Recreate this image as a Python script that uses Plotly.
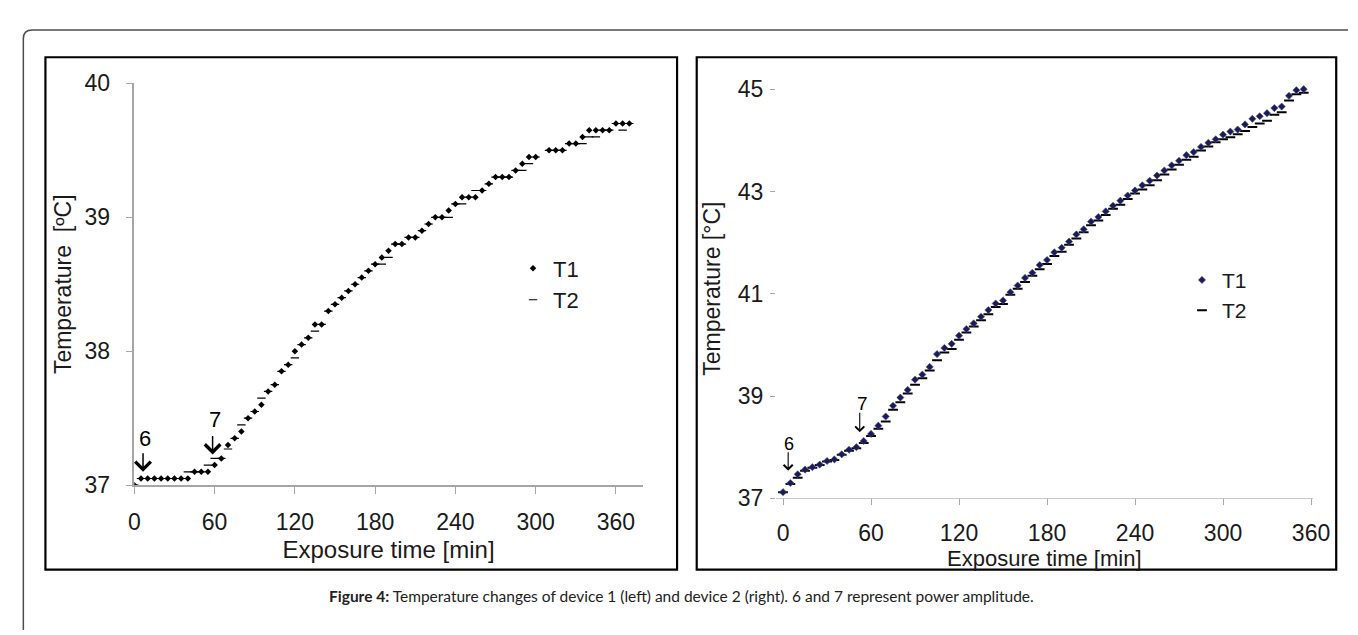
import plotly.graph_objects as go

W, H = 1358, 635

# ---------------- data: device 1 (left) ----------------
time_left = [0, 5, 10, 15, 20, 25, 30, 35, 40, 45, 50, 55, 60, 65, 70, 75, 80, 85, 90, 95,
             100, 105, 110, 115, 120, 125, 130, 135, 140, 145, 150, 155, 160, 165, 170, 175,
             180, 185, 190, 195, 200, 205, 210, 215, 220, 225, 230, 235, 240, 245, 250, 255,
             260, 265, 270, 275, 280, 285, 290, 295, 300, 305, 310, 315, 320, 325, 330, 335,
             340, 345, 350, 355, 360, 365, 370]
t1_left = [37.00, 37.05, 37.05, 37.05, 37.05, 37.05, 37.05, 37.05, 37.05, 37.10, 37.10, 37.10,
           37.15, 37.20, 37.30, 37.35, 37.40, 37.50, 37.55, 37.60, 37.70, 37.75, 37.85, 37.90,
           38.00, 38.05, 38.10, 38.20, 38.20, 38.30, 38.35, 38.40, 38.45, 38.50, 38.55, 38.60,
           38.65, 38.70, 38.75, 38.80, 38.80, 38.85, 38.85, 38.90, 38.95, 39.00, 39.00, 39.05,
           39.10, 39.15, 39.15, 39.15, 39.20, 39.25, 39.30, 39.30, 39.30, 39.35, 39.40, 39.45,
           39.45, None, 39.50, 39.50, 39.50, 39.55, 39.55, 39.60, 39.65, 39.65, 39.65, 39.65,
           39.70, 39.70, 39.70]
t2_left = [37.00, 37.05, 37.05, 37.05, 37.05, 37.05, 37.05, 37.05, 37.10, 37.10, 37.10, 37.15,
           37.20, 37.20, 37.27, 37.35, 37.45, 37.50, 37.55, 37.65, 37.70, 37.75, 37.85, 37.90,
           37.95, 38.05, 38.10, 38.15, 38.20, 38.30, 38.35, 38.40, 38.45, 38.50, 38.55, 38.60,
           38.65, 38.65, 38.70, 38.80, 38.80, 38.85, 38.85, 38.90, 38.95, 39.00, 39.00, 39.00,
           39.10, 39.10, 39.15, 39.20, 39.20, 39.25, 39.30, 39.30, 39.30, 39.35, 39.35, 39.40,
           39.45, None, 39.50, 39.50, 39.50, 39.55, 39.55, 39.55, 39.60, 39.60, 39.65, 39.65,
           39.70, 39.65, 39.70]

# ---------------- data: device 2 (right) ----------------
time_right = [0, 5, 10, 15, 20, 25, 30, 35, 40, 45, 50, 55, 60, 65, 70, 75, 80, 85, 90, 95,
              100, 105, 110, 115, 120, 125, 130, 135, 140, 145, 150, 155, 160, 165, 170, 175,
              180, 185, 190, 195, 200, 205, 210, 215, 220, 225, 230, 235, 240, 245, 250, 255,
              260, 265, 270, 275, 280, 285, 290, 295, 300, 305, 310, 315, 320, 325, 330, 335,
              340, 345, 350, 355]
t1_right = [37.12, 37.30, 37.47, 37.56, 37.61, 37.66, 37.73, 37.76, 37.86, 37.95, 38.00, 38.12,
            38.26, 38.42, 38.60, 38.81, 38.97, 39.12, 39.32, 39.42, 39.57, 39.82, 39.94, 40.02,
            40.18, 40.31, 40.42, 40.55, 40.68, 40.81, 40.87, 41.03, 41.16, 41.31, 41.41, 41.56,
            41.66, 41.81, 41.90, 42.02, 42.16, 42.26, 42.41, 42.50, 42.61, 42.72, 42.82, 42.92,
            43.02, 43.12, 43.21, 43.31, 43.41, 43.51, 43.60, 43.71, 43.77, 43.87, 43.95, 44.02,
            44.11, 44.17, 44.21, 44.31, 44.42, 44.47, 44.53, 44.63, 44.66, 44.87, 44.98, 45.00]
t2_right = [37.12, 37.28, 37.40, 37.54, 37.60, 37.65, 37.72, 37.75, 37.85, 37.93, 37.98, 38.08,
            38.22, 38.36, 38.50, 38.73, 38.88, 39.05, 39.22, 39.35, 39.50, 39.70, 39.85, 39.92,
            40.10, 40.24, 40.36, 40.48, 40.60, 40.74, 40.80, 40.98, 41.10, 41.23, 41.35, 41.48,
            41.58, 41.74, 41.82, 41.96, 42.08, 42.20, 42.34, 42.43, 42.54, 42.66, 42.74, 42.85,
            42.96, 43.04, 43.12, 43.22, 43.33, 43.43, 43.52, 43.62, 43.68, 43.80, 43.88, 43.96,
            44.02, 44.06, 44.12, 44.18, 44.26, 44.33, 44.38, 44.50, 44.55, 44.78, 44.90, 44.93]

left_xticks = [0, 60, 120, 180, 240, 300, 360]
left_yticks = [37, 38, 39, 40]
right_xticks = [0, 60, 120, 180, 240, 300, 360]
right_yticks = [37, 39, 41, 43, 45]


def px(x):
    return x / W


def py(y):
    return 1 - y / H


FONT = "Liberation Sans, Arial, sans-serif"
TXT = "#1a1a1a"
AX_GRAY = "#a6a6a6"

fig = go.Figure()

# left panel traces
fig.add_trace(go.Scatter(x=time_left, y=t2_left, mode="markers", name="T2",
                         marker=dict(symbol="line-ew", size=6, color="black",
                                     line=dict(color="black", width=1.2)),
                         xaxis="x", yaxis="y", legend="legend", legendrank=2))
fig.add_trace(go.Scatter(x=time_left, y=t1_left, mode="markers", name="T1",
                         marker=dict(symbol="diamond", size=5, color="black",
                                     line=dict(width=0)),
                         xaxis="x", yaxis="y", legend="legend", legendrank=1))

# right panel traces
fig.add_trace(go.Scatter(x=time_right, y=t2_right, mode="markers", name="T2",
                         marker=dict(symbol="line-ew", size=7, color="black",
                                     line=dict(color="black", width=2)),
                         xaxis="x2", yaxis="y2", legend="legend2", legendrank=2))
fig.add_trace(go.Scatter(x=time_right, y=t1_right, mode="markers", name="T1",
                         marker=dict(symbol="diamond", size=5.5, color="#1b1b55",
                                     line=dict(width=0.6, color="#4a4a8a")),
                         xaxis="x2", yaxis="y2", legend="legend2", legendrank=1))

common_ax = dict(showgrid=False, zeroline=False, ticks="outside", tickcolor=AX_GRAY,
                 tickwidth=1.2)

fig.update_layout(
    width=W, height=H, autosize=False,
    margin=dict(l=0, r=0, t=0, b=0),
    paper_bgcolor="white", plot_bgcolor="white",
    xaxis=dict(domain=[px(122.5), px(640)], range=[0, 380], anchor="y",
               tickvals=left_xticks, showline=True, linecolor=AX_GRAY, linewidth=1.5,
               ticklen=7, ticklabelstandoff=8,
               tickfont=dict(family=FONT, size=23, color=TXT),
               title=dict(text="Exposure time [min]", standoff=8,
                          font=dict(family=FONT, size=24, color=TXT)),
               **common_ax),
    yaxis=dict(domain=[py(484), py(65)], range=[37, 40], anchor="x",
               tickvals=left_yticks, showline=True, linecolor=AX_GRAY, linewidth=1.5,
               ticklen=7, ticklabelstandoff=11,
               tickfont=dict(family=FONT, size=23, color=TXT),
               title=dict(text="Temperature  [ºC]", standoff=6,
                          font=dict(family=FONT, size=23, color=TXT)),
               **common_ax),
    xaxis2=dict(domain=[px(775.7), px(1322)], range=[-4.8, 361.1], anchor="y2",
                tickvals=right_xticks, showline=True, linecolor="#c8c8c8", linewidth=1.2,
                ticklen=6, ticklabelstandoff=8,
                tickfont=dict(family=FONT, size=23, color=TXT),
                title=dict(text="Exposure time [min]", standoff=4,
                           font=dict(family=FONT, size=22, color=TXT)),
                **common_ax),
    yaxis2=dict(domain=[py(497.7), py(60.4)], range=[37, 45.2], anchor="x2",
                tickvals=right_yticks, showline=False,
                ticklen=5, ticklabelstandoff=2,
                tickfont=dict(family=FONT, size=23, color=TXT),
                title=dict(text="Temperature [°C]", standoff=10,
                           font=dict(family=FONT, size=23, color=TXT)),
                **common_ax),
    legend=dict(x=px(508), y=py(236), xanchor="left", yanchor="top",
                bgcolor="rgba(0,0,0,0)", itemwidth=30, tracegroupgap=0,
                font=dict(family=FONT, size=22, color=TXT)),
    legend2=dict(x=px(1189), y=py(249), xanchor="left", yanchor="top",
                 bgcolor="rgba(0,0,0,0)", itemwidth=30, tracegroupgap=0,
                 font=dict(family=FONT, size=21, color=TXT)),
    showlegend=True,
)

# outer page frame (left and top edges with rounded corner), panel frames
x0, yt, r = 9.5, 9.5, 9
fig.add_shape(type="path", xref="paper", yref="paper",
              path=(f"M {px(x0)},{py(H)} L {px(x0)},{py(yt + r)} "
                    f"Q {px(x0)},{py(yt)} {px(x0 + r)},{py(yt)} L {px(W)},{py(yt)}"),
              line=dict(color="#4d4d4d", width=1.5), layer="below")
fig.add_shape(type="rect", xref="paper", yref="paper",
              x0=px(32), x1=px(675), y0=py(572), y1=py(37.8),
              line=dict(color="black", width=2.2))
fig.add_shape(type="rect", xref="paper", yref="paper",
              x0=px(695), x1=px(1346), y0=py(572), y1=py(37.8),
              line=dict(color="black", width=2.2))

# power amplitude markers (6 and 7)
ann = []
# left panel
ann.append(dict(x=6.5, y=37.10, xref="x", yref="y", ax=0, ay=-20, text="",
                showarrow=True, arrowhead=4, arrowsize=2.0, arrowwidth=1.5, arrowcolor="black"))
ann.append(dict(x=8.2, y=37.345, xref="x", yref="y", text="6", showarrow=False,
                font=dict(family=FONT, size=22, color="black")))
ann.append(dict(x=58.5, y=37.23, xref="x", yref="y", ax=0, ay=-20, text="",
                showarrow=True, arrowhead=4, arrowsize=2.0, arrowwidth=1.5, arrowcolor="black"))
ann.append(dict(x=60.0, y=37.49, xref="x", yref="y", text="7", showarrow=False,
                font=dict(family=FONT, size=22, color="black")))
# right panel
ann.append(dict(x=3.5, y=37.54, xref="x2", yref="y2", ax=0, ay=-20, text="",
                showarrow=True, arrowhead=4, arrowsize=1.6, arrowwidth=1.1, arrowcolor="black"))
ann.append(dict(x=4.2, y=38.06, xref="x2", yref="y2", text="6", showarrow=False,
                font=dict(family=FONT, size=18, color="black")))
ann.append(dict(x=52.3, y=38.29, xref="x2", yref="y2", ax=0, ay=-21, text="",
                showarrow=True, arrowhead=4, arrowsize=1.6, arrowwidth=1.1, arrowcolor="black"))
ann.append(dict(x=54.0, y=38.85, xref="x2", yref="y2", text="7", showarrow=False,
                font=dict(family=FONT, size=19, color="black")))
# caption
ann.append(dict(x=px(679), y=py(611), xref="paper", yref="paper", showarrow=False,
                text="<b>Figure 4:</b> Temperature changes of device 1 (left) and device 2 (right). "
                     "6 and 7 represent power amplitude.",
                font=dict(family="Lato, Open Sans, sans-serif", size=15.5, color="#222222")))
fig.update_layout(annotations=ann)

fig.write_html("out.html")
